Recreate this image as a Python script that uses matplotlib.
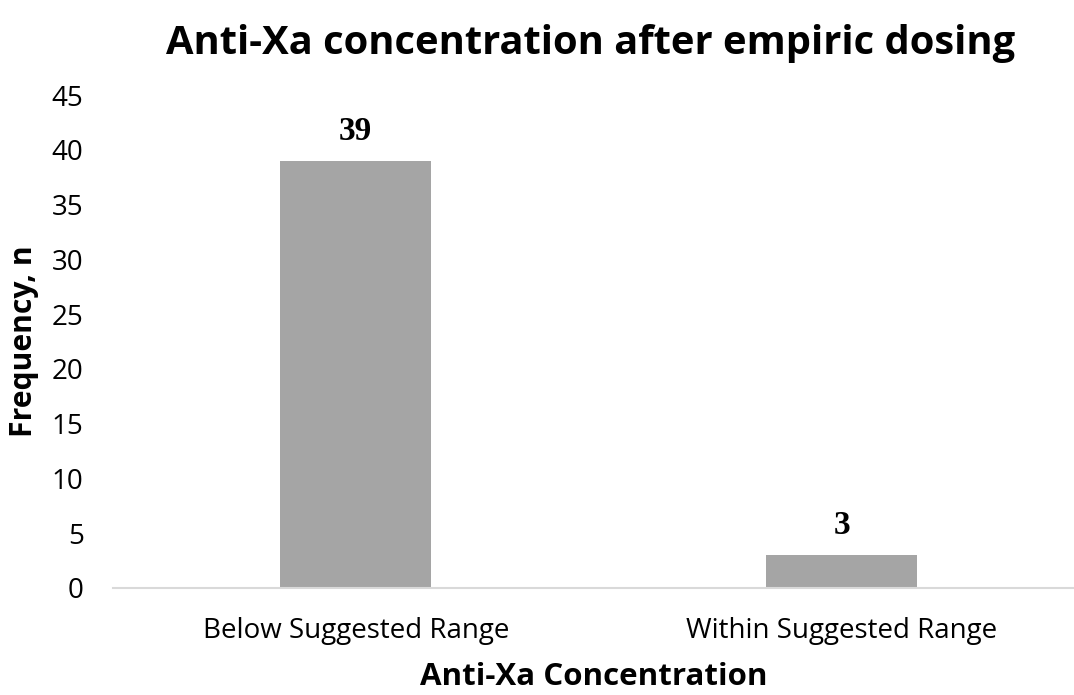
import matplotlib
matplotlib.use("Agg")
import matplotlib.pyplot as plt

categories = ["Below Suggested Range", "Within Suggested Range"]
frequency = [39, 3]
y_ticks = [0, 5, 10, 15, 20, 25, 30, 35, 40, 45]

plt.rcParams['font.family'] = ['Open Sans', 'DejaVu Sans']

fig = plt.figure(figsize=(10.74, 6.95), dpi=100)
ax = fig.add_axes([0.105, 0.154, 0.895, 0.709])

x = range(len(categories))
bars = ax.bar(x, frequency, width=0.31, color='#a5a5a5', zorder=2)

for xi, v in zip(x, frequency):
    ax.annotate(str(v), (xi, v), xytext=(0, 10), textcoords='offset points',
                ha='center', va='bottom', fontsize=24, fontweight='bold',
                family='Liberation Serif')

ax.set_xlim(-0.5, 1.478)
ax.set_ylim(0, 45)
ax.set_yticks(y_ticks)
ax.set_xticks(list(x))
ax.set_xticklabels(categories)
ax.tick_params(axis='y', length=0, labelsize=20, pad=21)
ax.tick_params(axis='x', length=0, labelsize=20, pad=21)

for s in ['top', 'right', 'left']:
    ax.spines[s].set_visible(False)
ax.spines['bottom'].set_color('#d9d9d9')
ax.spines['bottom'].set_linewidth(1.5)

ax.set_ylabel("Frequency, n", fontsize=21.7, fontweight='bold', labelpad=9)
ax.set_xlabel("Anti-Xa Concentration", fontsize=22.5, fontweight='bold', labelpad=12)
fig.text(0.5495, 0.937, "Anti-Xa concentration after empiric dosing",
         ha='center', va='center', fontsize=28.7, fontweight='bold')

fig.savefig("out.png", dpi=100)
